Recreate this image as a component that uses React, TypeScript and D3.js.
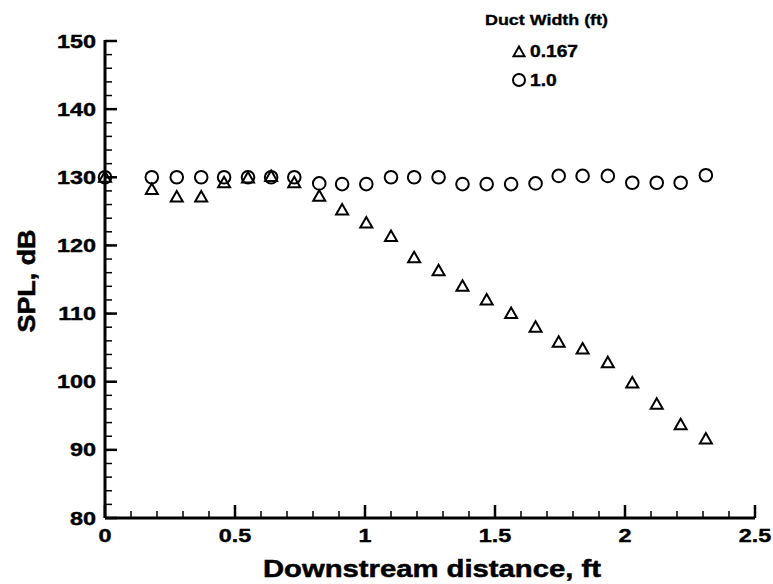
import React from "react";
import * as d3 from "d3";

const xTriangle = [0, 0.18, 0.276, 0.37, 0.458, 0.55, 0.639, 0.728, 0.824, 0.912, 1.005, 1.1, 1.189, 1.283, 1.375, 1.468, 1.562, 1.656, 1.745, 1.837, 1.934, 2.028, 2.122, 2.214, 2.311];
const yTriangle = [130, 128.2, 127.1, 127.1, 129.2, 129.9, 130.1, 129.2, 127.2, 125.2, 123.3, 121.3, 118.2, 116.3, 114, 112, 110, 108, 105.8, 104.8, 102.8, 99.8, 96.7, 93.7, 91.6];
const xCircle = xTriangle;
const yCircle = [130, 130, 130, 130, 130, 130, 130, 130, 129.1, 129, 129, 130, 130, 130, 129, 129, 129, 129.1, 130.2, 130.2, 130.2, 129.2, 129.2, 129.2, 130.3];

const xMajorTicks = [0, 0.5, 1, 1.5, 2, 2.5];
const xTickLabels = ["0", "0.5", "1", "1.5", "2", "2.5"];
const yMajorTicks = [80, 90, 100, 110, 120, 130, 140, 150];
const yTickLabels = ["80", "90", "100", "110", "120", "130", "140", "150"];
const seriesNames = ["0.167", "1.0"];
const legendTitle = "Duct Width (ft)";
const xTitle = "Downstream distance, ft";
const yTitle = "SPL, dB";

const FONT = "'Liberation Sans', Arial, Helvetica, sans-serif";

function trianglePath(cx: number, cy: number, s = 6) {
  const p = d3.path();
  p.moveTo(cx, cy - s);
  p.lineTo(cx + s, cy + s * 0.75);
  p.lineTo(cx - s, cy + s * 0.75);
  p.closePath();
  return p.toString();
}

function SText({ x, y, sx = 1.3, anchor = "start", size = 18, children }: any) {
  return (
    <text
      transform={`translate(${x},${y}) scale(${sx},1)`}
      textAnchor={anchor}
      fontFamily={FONT}
      fontWeight="bold"
      fontSize={size}
      fill="#000"
      stroke="#000"
      strokeWidth={0.4}
    >
      {children}
    </text>
  );
}

export default function App() {
  const x = d3.scaleLinear().domain([0, 2.5]).range([105, 755]);
  const y = d3.scaleLinear().domain([80, 150]).range([518, 41]);
  const xMinor = d3.range(0, 2.5001, 0.1);
  const yMinor = d3.range(80, 150.001, 2);

  return (
    <svg width={773} height={584} style={{ position: "absolute", left: 0, top: 0, background: "#fff" }}>
      <rect width={773} height={584} fill="#fff" />
      {/* axes lines */}
      <line x1={x(0)} x2={x(0)} y1={y(150) - 1} y2={y(80)} stroke="#000" strokeWidth={3} />
      <line x1={x(0)} x2={x(2.5)} y1={y(80)} y2={y(80)} stroke="#000" strokeWidth={3} />
      {/* minor ticks */}
      {xMinor.map((v, i) => (
        <line key={"xm" + i} x1={x(v)} x2={x(v)} y1={y(80)} y2={y(80) - 7} stroke="#000" strokeWidth={1.5} />
      ))}
      {yMinor.map((v, i) => (
        <line key={"ym" + i} x1={x(0)} x2={x(0) + 7} y1={y(v)} y2={y(v)} stroke="#000" strokeWidth={1.5} />
      ))}
      {/* major ticks */}
      {xMajorTicks.map((v, i) => (
        <line key={"xM" + i} x1={x(v)} x2={x(v)} y1={y(80)} y2={y(80) - 13} stroke="#000" strokeWidth={2.5} />
      ))}
      {yMajorTicks.map((v, i) => (
        <line key={"yM" + i} x1={x(0)} x2={x(0) + 12} y1={y(v)} y2={y(v)} stroke="#000" strokeWidth={2.5} />
      ))}
      {/* tick labels */}
      {xMajorTicks.map((v, i) => (
        <SText key={"xl" + i} x={x(v)} y={542} anchor="middle" size={18}>
          {xTickLabels[i]}
        </SText>
      ))}
      {yMajorTicks.map((v, i) => (
        <SText key={"yl" + i} x={96} y={y(v) + 6.5} anchor="end" size={18}>
          {yTickLabels[i]}
        </SText>
      ))}
      {/* axis titles */}
      <text x={432} y={577} textAnchor="middle" fontFamily={FONT} fontWeight="bold" fontSize={24} textLength={338} lengthAdjust="spacingAndGlyphs" stroke="#000" strokeWidth={0.5}>
        {xTitle}
      </text>
      <text
        transform={`translate(35,281) rotate(-90)`}
        textAnchor="middle"
        fontFamily={FONT}
        fontWeight="bold"
        fontSize={23}
        textLength={103}
        lengthAdjust="spacingAndGlyphs"
        stroke="#000"
        strokeWidth={0.5}
      >
        {yTitle}
      </text>
      {/* data */}
      {xCircle.map((v, i) => (
        <circle key={"c" + i} cx={x(v)} cy={y(yCircle[i])} r={6.3} fill="none" stroke="#000" strokeWidth={2} />
      ))}
      {xTriangle.map((v, i) => (
        <path key={"t" + i} d={trianglePath(x(v), y(yTriangle[i]))} fill="none" stroke="#000" strokeWidth={2} strokeLinejoin="miter" />
      ))}
      {/* legend */}
      <text x={485} y={25} fontFamily={FONT} fontWeight="bold" fontSize={14} textLength={123} lengthAdjust="spacingAndGlyphs" stroke="#000" strokeWidth={0.3}>
        {legendTitle}
      </text>
      <path d={trianglePath(519, 52, 5.5)} fill="none" stroke="#000" strokeWidth={2} />
      <SText x={530} y={57} size={16} sx={1.2}>{seriesNames[0]}</SText>
      <circle cx={519} cy={80} r={6} fill="none" stroke="#000" strokeWidth={2} />
      <SText x={530} y={86} size={16} sx={1.2}>{seriesNames[1]}</SText>
    </svg>
  );
}
